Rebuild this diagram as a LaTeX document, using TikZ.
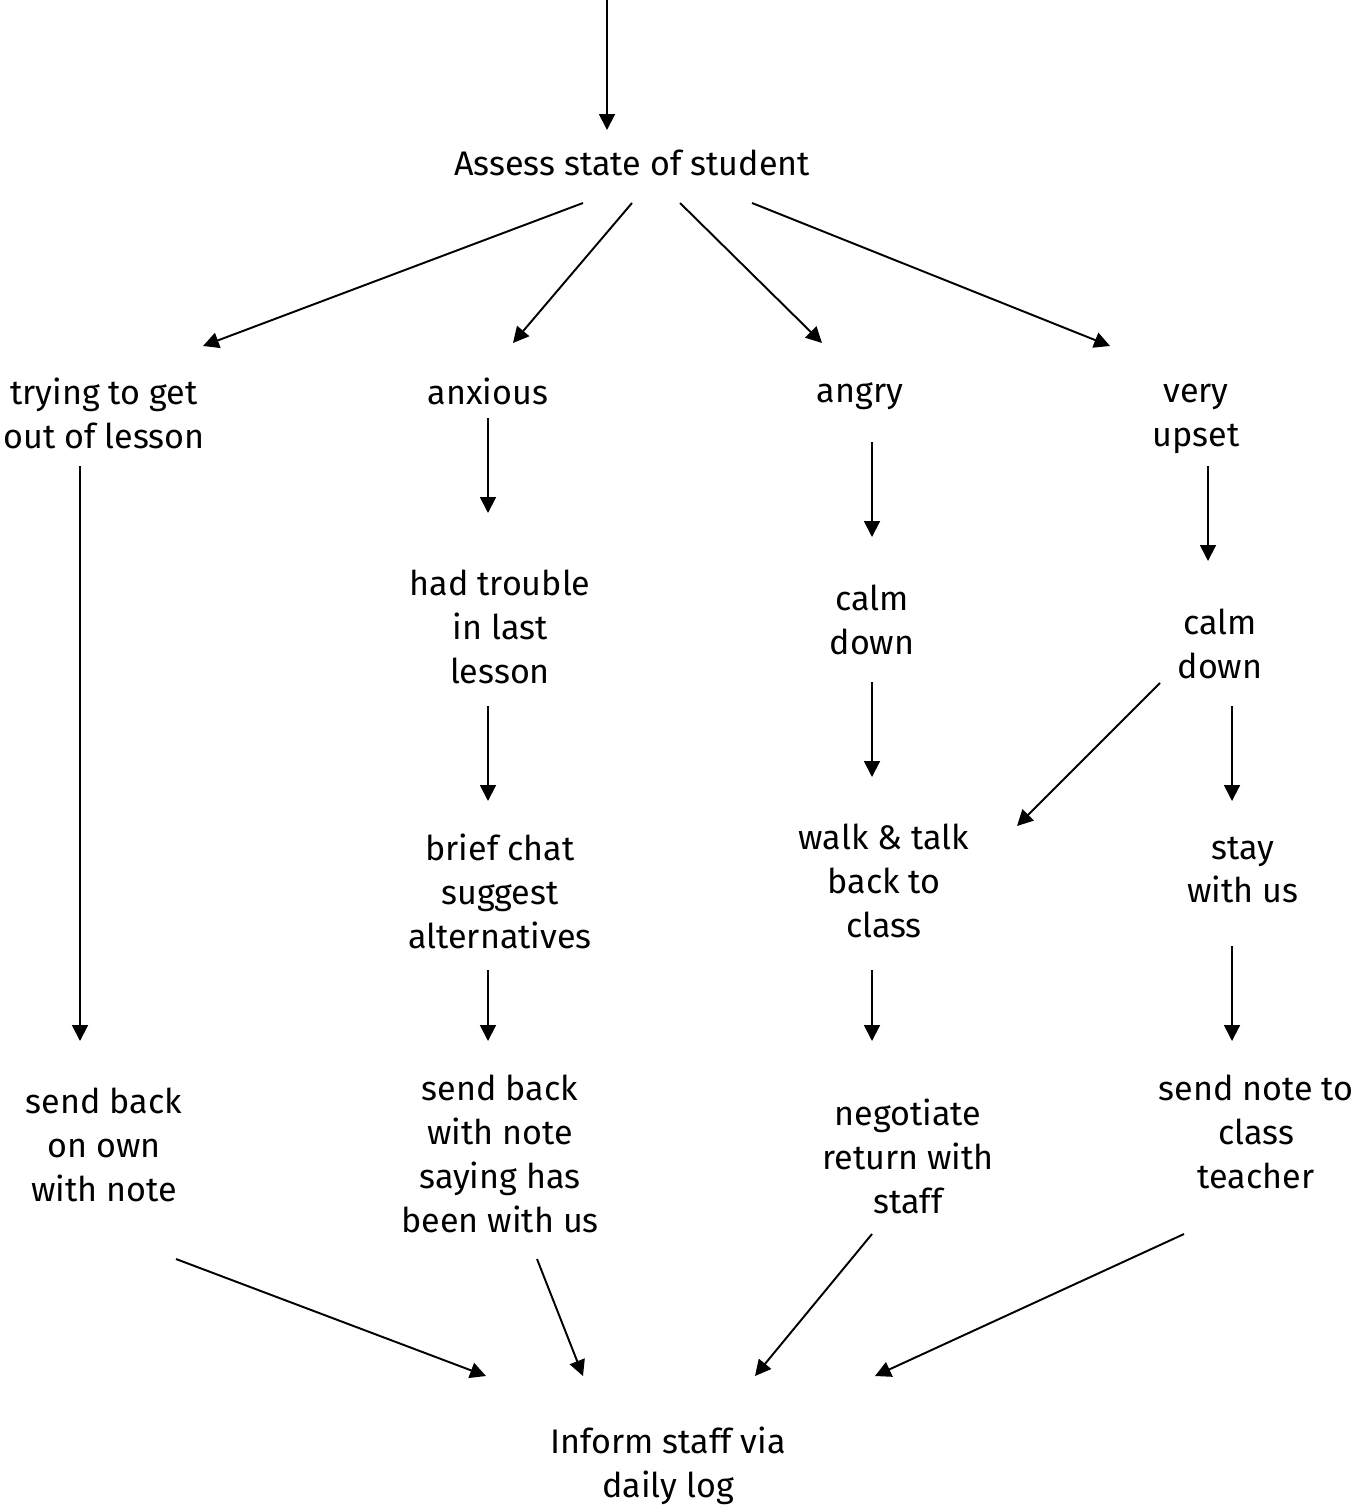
\documentclass[tikz,border=0pt]{standalone}
\usepackage{fontspec}
\setmainfont{Fira Sans}
\usetikzlibrary{arrows.meta,calc}

\tikzset{
  txt/.style={align=center,inner sep=0pt,font=\fontsize{19.4}{25}\selectfont},
  arr/.style={-{Triangle[length=9pt,width=9pt]},line width=1.1pt}
}

\begin{document}
\begin{tikzpicture}[x=0.02cm,y=-0.02cm]
\useasboundingbox (0,0) rectangle (1367,1510);

\coordinate (top) at (607,0);

\node[txt] (assess) at (632,163) {Assess state of student};

\node[txt] (trying) at (104,413) {trying to get\\out of lesson};
\node[txt] (anxious) at (488,391) {anxious};
\node[txt] (angry) at (860,396) {angry};
\node[txt] (upset) at (1196,419) {very\\upset};

\node[txt] (trouble) at (500,627) {had trouble\\in last\\lesson};
\node[txt] (calmA) at (872,620) {calm\\down};
\node[txt] (calmB) at (1220,644) {calm\\down};

\node[txt] (brief) at (500,891) {brief chat\\suggest\\alternatives};
\node[txt] (walk) at (884,881) {walk \& talk\\back to\\class};
\node[txt] (stay) at (1243,870) {stay\\with us};

\node[txt] (sendA) at (104,1145) {send back\\on own\\with note};
\node[txt] (sendB) at (500,1154) {send back\\with note\\saying has\\been with us};
\node[txt] (nego) at (908,1156) {negotiate\\return with\\staff};
\node[txt] (sendC) at (1256,1132) {send note to\\class\\teacher};

\node[txt] (inform) at (668,1466) {Inform staff via\\daily log};

% into the assessment
\draw[arr] (top) -- ($(assess)+(-25,-33)$);

% four states
\draw[arr] ($(assess)+(-49,40)$) -- ($(trying)+(99,-67)$);
\draw[arr] ($(assess)+(0,40)$) -- ($(anxious)+(25,-48)$);
\draw[arr] ($(assess)+(48,40)$) -- ($(angry)+(-38,-53)$);
\draw[arr] ($(assess)+(120,40)$) -- ($(upset)+(-86,-73)$);

% down the columns
\draw[arr] ($(anxious)+(0,27)$) -- ($(trouble)+(-12,-114)$);
\draw[arr] ($(angry)+(12,46)$) -- ($(calmA)+(0,-83)$);
\draw[arr] ($(upset)+(12,47)$) -- ($(calmB)+(-12,-83)$);
\draw[arr] ($(trying)+(-24,53)$) -- ($(sendA)+(-24,-104)$);

\draw[arr] ($(trouble)+(-12,79)$) -- ($(brief)+(-12,-90)$);
\draw[arr] ($(calmA)+(0,62)$) -- ($(walk)+(-12,-104)$);
\draw[arr] ($(calmB)+(-60,39)$) -- ($(walk)+(133,-55)$);
\draw[arr] ($(calmB)+(12,62)$) -- ($(stay)+(-11,-69)$);

\draw[arr] ($(brief)+(-12,79)$) -- ($(sendB)+(-12,-113)$);
\draw[arr] ($(walk)+(-12,89)$) -- ($(nego)+(-36,-115)$);
\draw[arr] ($(stay)+(-11,76)$) -- ($(sendC)+(-24,-91)$);

% all end in the log
\draw[arr] ($(sendA)+(72,114)$) -- ($(inform)+(-182,-90)$);
\draw[arr] ($(sendB)+(37,105)$) -- ($(inform)+(-85,-90)$);
\draw[arr] ($(nego)+(-36,78)$) -- ($(inform)+(87,-90)$);
\draw[arr] ($(sendC)+(-72,102)$) -- ($(inform)+(207,-90)$);

\end{tikzpicture}
\end{document}
